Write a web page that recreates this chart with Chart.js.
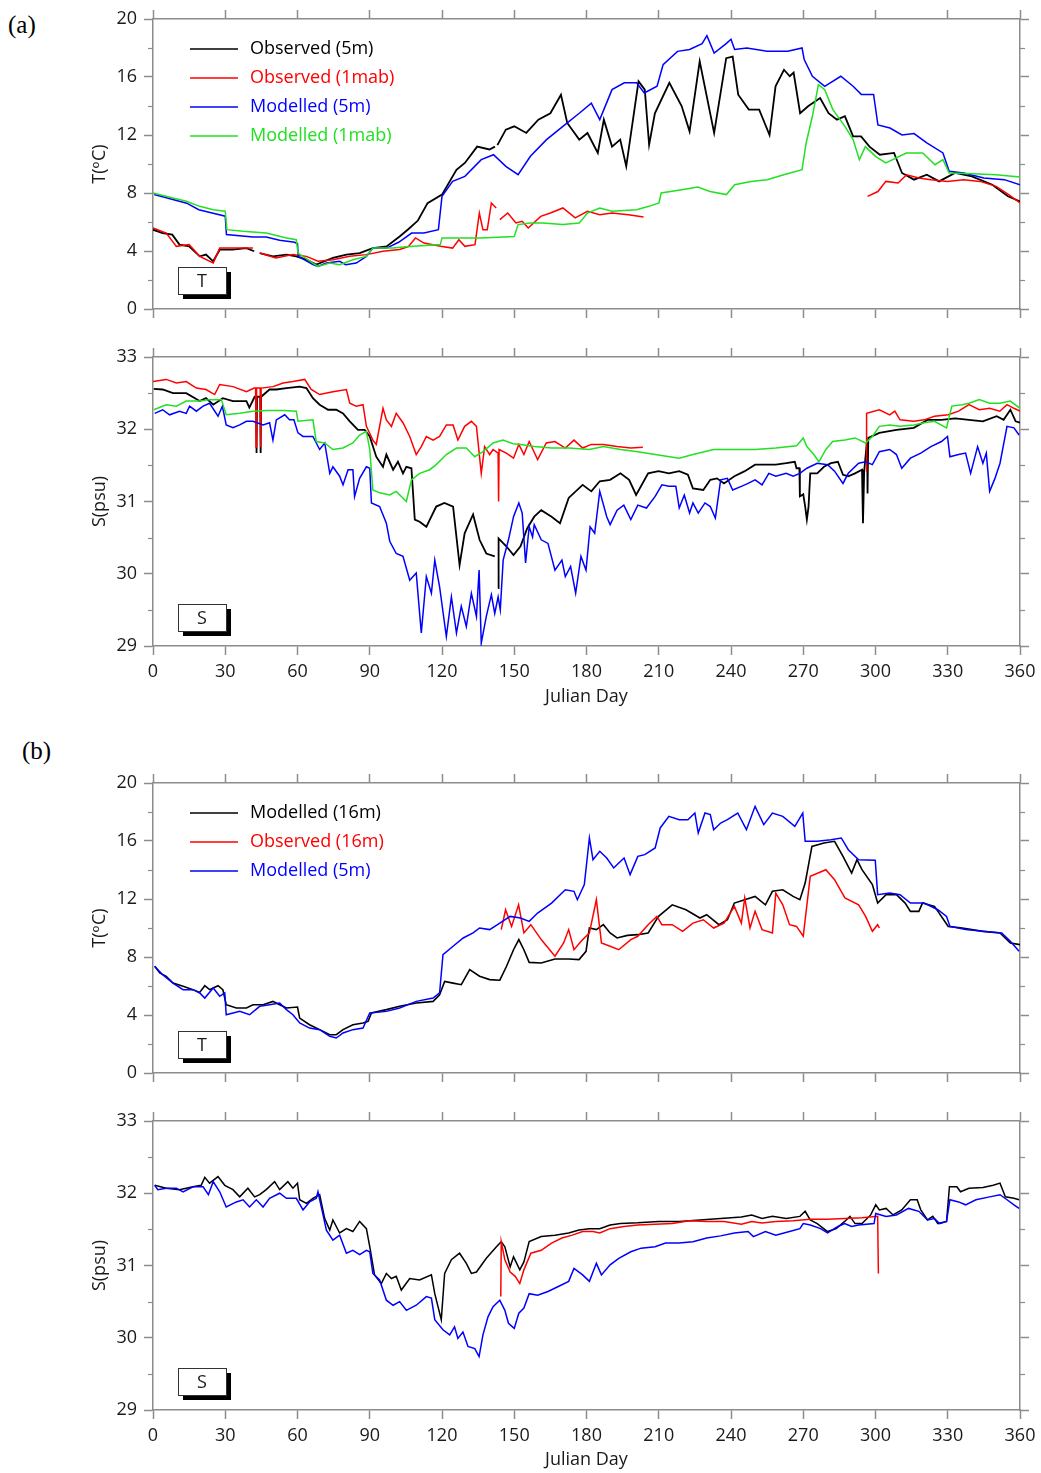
<!DOCTYPE html>
<html>
<head>
<meta charset="utf-8">
<title>Temperature and salinity, Julian day 0-360</title>
<script src="https://cdn.jsdelivr.net/npm/chart.js@4.4.1/dist/chart.umd.min.js"></script>
<style>
  body { margin: 0; background: #fff; }
  #page { position: relative; width: 1041px; height: 1473px; overflow: hidden; background: #fff; }
  #page canvas { position: absolute; left: 0; }
  .tag { position: absolute; font: 25px "Liberation Serif", "Times New Roman", serif; color: #000; line-height: 1; }
</style>
</head>
<body>
<div id="page">
  <div class="tag" style="left:8px;top:12px">(a)</div>
  <div class="tag" style="left:22px;top:738px">(b)</div>
  <canvas id="aT" width="1036" height="330" style="top:0px"></canvas>
  <canvas id="aS" width="1036" height="380" style="top:335px"></canvas>
  <canvas id="bT" width="1036" height="330" style="top:760px"></canvas>
  <canvas id="bS" width="1036" height="378" style="top:1095px"></canvas>
</div>

<script>
// ---------- Data: [Julian day, value], a null value breaks the record ----------

// (a) temperature
const aTObs5 = [[0,5.47],[4,5.24],[8,5.13],[11,4.44],[15,4.32],[19.4,3.63],[22,3.75],[25,3.29],[27.7,4.09],[33,4.09],[38.8,4.2],[42,3.98],[43,null],[44.3,3.86],[49.8,3.63],[55.4,3.75],[59.5,3.63],[63.7,3.4],[67.8,3.06],[74.7,3.52],[80.3,3.75],[85.8,3.86],[91.3,4.2],[97,4.32],[102.4,5.0],[106,5.5],[110,6.1],[114,7.3],[120,7.89],[126,9.6],[129.5,10.07],[134.6,11.2],[139.7,11.0],[142,11.2],[142.5,null],[143,11.3],[146.5,12.37],[150,12.6],[155,12.14],[160,13.06],[165,13.5],[169.4,14.78],[172,12.83],[177,11.68],[180.4,12.14],[184.7,10.76],[187.2,13.06],[190.6,11.2],[194,11.68],[196.5,9.84],[201.6,15.7],[204.2,15.13],[206,11.33],[208.4,13.5],[214.4,15.6],[219.5,14.0],[222.8,12.25],[227,17.08],[233,12.14],[238,17.3],[240.7,17.4],[243,14.78],[247.4,13.75],[251.7,13.75],[256,12.0],[258.5,15.36],[262,16.5],[264.4,16.05],[266,16.3],[268.7,13.5],[272,13.98],[277,14.55],[280.5,13.5],[284,13.06],[287.3,13.29],[290.7,11.91],[294,11.91],[297.5,11.2],[301.8,10.64],[307.7,10.76],[311,9.38],[316,8.92],[321.3,9.26],[326.4,8.8],[333,9.38],[340,9.15],[348.5,8.57],[355,7.77],[360,7.42]];
const aTObs1mab = [[0,5.59],[5.5,5.24],[9.7,4.32],[15,4.44],[19.4,3.63],[25,3.17],[27.7,4.2],[33,4.2],[41.5,4.2],[43,null],[44.3,3.86],[51,3.52],[58,3.75],[63.7,3.63],[68.5,3.29],[74.7,3.4],[81.7,3.63],[88.6,3.75],[95.5,3.98],[102.4,4.1],[106,4.3],[109,4.9],[112.5,4.55],[119.4,4.32],[124.4,4.2],[127,4.78],[129.5,4.32],[133.7,4.44],[135.5,6.62],[137,5.47],[138.8,5.47],[140.5,7.31],[142.5,6.97],[143.2,null],[144,6.16],[147.3,6.62],[150.7,5.93],[153.3,6.05],[155.8,5.59],[161,6.39],[165,6.62],[170.2,6.97],[175.3,6.28],[180.4,6.74],[185.5,6.5],[190.6,6.62],[197.4,6.5],[203.7,6.34],[250,null],[296.7,7.77],[301,8.1],[304.3,8.8],[309.4,8.69],[312.9,9.26],[318,9.03],[323,8.92],[329.8,8.8],[336.6,8.92],[343.4,8.8],[350.1,8.46],[355.3,7.89],[360,7.31]];
const aTMod5 = [[0.5,7.89],[14,7.3],[19,6.85],[25,6.6],[30,6.4],[30.5,5.13],[41.5,4.97],[47,4.97],[52.6,4.74],[58.8,4.6],[60,4.5],[60.3,3.63],[66.4,3.06],[68.5,2.94],[72,3.17],[77.5,3.29],[80,3.06],[84.4,3.17],[88.6,3.63],[91.3,4.2],[97,4.2],[102,4.6],[107.4,5.24],[112.5,5.24],[118.5,5.47],[120,7.77],[124.4,8.8],[129.5,9.15],[136.3,10.3],[141.4,10.64],[146.5,9.84],[151.6,9.26],[156.7,10.53],[163.4,11.68],[170.2,12.6],[177,13.5],[182,14.2],[185.5,13.06],[190.6,15.13],[195.7,15.6],[200.8,15.6],[204,14.9],[209.3,15.36],[211.8,16.85],[217.8,17.77],[222.8,17.9],[228,18.3],[230,18.85],[233,17.65],[238,18.3],[240,18.6],[241.5,17.9],[246.6,18.0],[255,17.77],[263.6,17.77],[269.5,18.0],[270.4,17.2],[273.8,16.05],[278.9,15.36],[285.6,16.05],[290.7,15.36],[294.1,14.8],[299.2,14.8],[301,12.7],[306,12.48],[311,12.0],[316,12.1],[321.3,11.45],[328,10.76],[330.6,9.5],[336.6,9.38],[345,9.03],[353.5,8.92],[360,8.57]];
const aTMod1mab = [[0,8.0],[8.3,7.66],[13.8,7.43],[19.4,7.08],[25,6.85],[30,6.74],[30.7,5.47],[37.4,5.36],[47,5.24],[55.4,4.9],[59.5,4.78],[60.2,3.86],[66.4,3.17],[68.5,2.94],[73.4,3.17],[77.5,3.06],[83,3.4],[88.6,3.63],[91.3,4.2],[99.7,4.2],[105,4.3],[119.3,4.44],[120,4.9],[136.3,4.9],[150,5.0],[151.6,5.82],[156.7,5.93],[161.8,5.93],[170.2,5.82],[177,5.93],[180.4,6.62],[185.5,6.97],[190.6,6.74],[200.8,6.85],[205.9,7.08],[210.1,7.31],[211,8.0],[219.5,8.23],[226.2,8.41],[231.3,8.11],[238.1,7.89],[241.5,8.57],[248.3,8.8],[255,8.92],[261.9,9.26],[269.5,9.61],[271.2,11.45],[273.8,13.29],[276.3,15.47],[278.9,15.13],[282.3,13.75],[287.3,12.6],[290.7,11.68],[293.3,10.3],[295.8,11.2],[300,10.53],[304.3,10.07],[312.8,10.76],[319.6,10.76],[324.7,9.95],[328,10.3],[330.6,9.38],[340,9.33],[350.1,9.26],[360,9.1]];

// (a) salinity
const aSObs5 = [[0.3,32.56],[4,32.55],[8.3,32.5],[13.8,32.5],[19.4,32.39],[22,32.43],[25,32.34],[29,32.43],[33.2,32.39],[38.8,32.39],[40,32.3],[42.2,32.45],[42.8,32.45],[43,31.67],[43.2,32.45],[44.5,32.45],[44.7,31.67],[44.9,32.45],[48.4,32.55],[51.2,32.55],[55.4,32.57],[60.9,32.59],[63.7,32.57],[66.4,32.43],[69.2,32.34],[72.7,32.27],[76.1,32.27],[78.9,32.22],[81.7,32.11],[85.1,31.99],[87.9,31.99],[90,31.9],[92.7,31.62],[95.5,31.48],[96.9,31.65],[99.7,31.44],[101.7,31.55],[103.8,31.39],[105.2,31.48],[107.3,31.46],[108.7,30.75],[110.7,30.72],[113.5,30.65],[117.6,30.93],[121,30.98],[124.6,30.93],[127.3,30.12],[129.4,30.56],[132.9,30.82],[135.6,30.47],[138.4,30.28],[141.9,30.24],[142.5,null],[143.3,29.8],[143.5,30.49],[146.7,30.38],[149.7,30.26],[152.6,30.38],[155.4,30.63],[158.3,30.79],[161.2,30.88],[165.5,30.79],[169,30.7],[172.6,31.05],[178.4,31.23],[182,31.14],[185.5,31.28],[189.8,31.3],[194.1,31.39],[197.7,31.3],[200.6,31.09],[205.6,31.39],[209.9,31.42],[214.2,31.39],[218.5,31.42],[222.1,31.37],[224.2,31.18],[228.5,31.16],[231.4,31.3],[234.2,31.32],[237.1,31.25],[241.4,31.35],[245.7,31.42],[250,31.51],[254.3,31.51],[258.6,31.51],[262.9,31.53],[266.5,31.55],[267.2,31.46],[268.4,31.46],[268.6,31.07],[270,31.1],[270.8,30.93],[271.5,30.75],[272.2,30.93],[272.9,31.39],[275.8,31.39],[278.6,31.48],[281.5,31.53],[284.4,31.55],[286.5,31.37],[288.7,31.35],[291.5,31.39],[294.4,31.44],[294.8,30.7],[295.3,31.42],[296.5,31.85],[296.7,31.11],[297,31.88],[301.6,31.95],[308.7,31.99],[315.9,32.02],[321.6,32.13],[327.4,32.13],[333.1,32.15],[338.8,32.13],[344.6,32.11],[350.3,32.18],[353.2,32.13],[356,32.27],[358.2,32.11],[360,32.09]];
const aSObs1mab = [[0,32.66],[5.5,32.69],[9.7,32.64],[13.8,32.66],[18,32.57],[22,32.55],[25.6,32.48],[27.7,32.62],[33.2,32.59],[38.8,32.52],[42,32.57],[42.6,32.57],[42.8,31.75],[43,32.57],[44.5,32.57],[44.7,31.75],[44.9,32.57],[49.8,32.59],[54,32.64],[58.1,32.66],[63,32.69],[65.7,32.55],[69.2,32.48],[74.7,32.52],[80.3,32.55],[81.7,32.36],[84.4,32.32],[87.2,32.34],[88.6,32.04],[91.3,31.85],[92.7,31.79],[95.5,32.29],[96.9,32.13],[99,32.04],[101,32.22],[103.8,32.09],[106.6,31.9],[109.3,31.65],[111.4,31.76],[113.5,31.9],[116.3,31.85],[119,31.9],[121.8,32.06],[124.6,32.06],[126.6,31.85],[129.4,32.04],[132.2,32.11],[134.3,32.04],[136.3,31.39],[137.7,31.76],[139.8,31.65],[141.2,31.72],[143.3,31.67],[143.5,31.0],[143.7,31.72],[146.7,31.67],[149.7,31.6],[151.9,31.79],[154,31.65],[156.2,31.83],[159.7,31.58],[163.3,31.81],[166.9,31.83],[171.2,31.74],[174.8,31.85],[178.4,31.74],[182,31.79],[187,31.79],[192.7,31.76],[198.4,31.74],[203.4,31.75],[250,null],[296.1,31.42],[296.3,32.22],[301.6,32.27],[305.9,32.2],[308,32.25],[310.2,32.13],[315.9,32.11],[320.2,32.13],[324.5,32.18],[330.2,32.2],[334.5,32.25],[338.8,32.34],[343.1,32.27],[347.4,32.29],[351.6,32.25],[354.6,32.34],[357.5,32.29],[360,32.25]];
const aSMod5 = [[0.7,32.22],[4,32.27],[6.9,32.2],[11,32.25],[13.8,32.22],[15.2,32.32],[18,32.25],[20.8,32.32],[23.5,32.36],[27,32.18],[28.8,32.32],[30.4,32.06],[33.2,32.02],[36,32.06],[38.8,32.11],[41.5,32.11],[45.7,32.06],[48.4,32.09],[49.8,31.85],[51.2,32.13],[54.7,32.2],[56.7,32.13],[58.5,32.13],[60.2,31.95],[62.3,31.9],[66.4,31.9],[69.2,31.72],[71.3,31.81],[73.4,31.39],[74.7,31.48],[77.5,31.35],[78.9,31.23],[81,31.44],[83,31.44],[83.7,31.07],[85.8,31.32],[88.6,31.48],[90,31.46],[90.7,30.98],[94.1,30.93],[96.9,30.7],[98.3,30.45],[101,30.28],[103.8,30.24],[106.6,29.91],[109.3,30.01],[111.4,29.18],[113.5,29.96],[115.6,29.73],[117,30.19],[119,29.82],[121.8,29.13],[123.9,29.68],[126,29.18],[128,29.55],[130.1,29.27],[132.2,29.73],[134.3,29.41],[135.4,30.05],[136.3,29.04],[138.4,29.41],[140.5,29.71],[141.9,29.45],[143.3,29.68],[144.2,29.5],[145.4,30.19],[147.6,30.47],[149.7,30.79],[151.9,30.98],[153.3,30.84],[154.7,30.15],[156.2,30.65],[157.6,30.51],[158.3,30.68],[161.2,30.47],[164,30.42],[166.9,30.05],[169.8,30.19],[171.2,29.96],[173.4,30.1],[175.5,29.73],[177.7,30.24],[179.8,30.05],[181.5,30.65],[183.4,30.56],[185.5,31.14],[188.4,30.79],[189.8,30.68],[192.7,30.88],[195.5,30.95],[198.4,30.75],[201.3,30.95],[204.9,30.91],[208.5,31.07],[211.3,31.23],[214.2,31.21],[217.1,31.21],[218.5,30.91],[220.6,31.09],[222.8,30.84],[224.2,30.98],[226.4,30.84],[229.2,30.98],[231.4,30.93],[233.5,30.77],[235.7,31.3],[238.5,31.32],[240.7,31.16],[244.3,31.21],[247.1,31.25],[250,31.3],[252.9,31.23],[255.7,31.39],[258.6,31.35],[262.9,31.39],[265.8,31.35],[268.6,31.39],[271.5,31.46],[275.8,31.53],[280.1,31.51],[283,31.42],[286.5,31.25],[288.7,31.39],[293,31.53],[295.9,31.55],[298.7,31.51],[301.6,31.69],[305.9,31.72],[308.7,31.65],[310.9,31.46],[314.5,31.6],[318.8,31.67],[323,31.76],[327.4,31.83],[329.9,31.9],[330.9,31.62],[334.5,31.65],[337.4,31.67],[339.5,31.39],[342.4,31.76],[344.6,31.53],[346,31.67],[347.4,31.14],[349.6,31.32],[351.7,31.53],[354.6,32.04],[357.5,32.02],[359.6,31.92]];
const aSMod1mab = [[0.3,32.27],[5.5,32.34],[9.7,32.32],[13.8,32.39],[19.4,32.39],[23.5,32.41],[28.4,32.41],[30.4,32.2],[36,32.22],[41.5,32.25],[47,32.26],[54,32.26],[59.5,32.25],[60.2,32.11],[66.4,32.13],[67.8,31.83],[71.3,31.81],[74.7,31.72],[78.9,31.74],[83,31.81],[85.8,31.92],[88.6,31.97],[90,31.72],[91.3,31.16],[94.1,31.12],[98.3,31.09],[101,31.14],[103.1,31.07],[105.2,31.0],[107.3,31.3],[110.7,31.39],[114.9,31.44],[117.6,31.51],[121.8,31.65],[126,31.74],[130.1,31.74],[133.6,31.62],[137,31.69],[141.2,31.81],[145.3,31.85],[149.5,31.8],[152.6,31.79],[158.3,31.76],[165.5,31.74],[172.6,31.74],[181.2,31.72],[187,31.76],[194.1,31.72],[201.3,31.69],[208.5,31.65],[218.5,31.6],[224.2,31.65],[232.8,31.72],[241.4,31.72],[250,31.72],[258.6,31.74],[267.2,31.77],[270,31.88],[271.5,31.76],[274.4,31.65],[276.5,31.55],[279.4,31.72],[282.2,31.83],[287.3,31.85],[291.5,31.88],[295.9,31.81],[298.7,31.9],[301.6,32.04],[305.9,32.06],[310.2,32.04],[315.9,32.06],[320.2,32.09],[324.5,32.11],[329.5,32.02],[331.7,32.32],[336,32.34],[338.8,32.36],[343.1,32.41],[347.4,32.36],[351.7,32.36],[356,32.39],[360,32.29]];

// (b) temperature
const bTMod16 = [[0.7,7.36],[2.8,6.9],[5.5,6.67],[8.3,6.2],[12.5,5.98],[16.6,5.75],[19.4,5.56],[21.5,6.02],[23.5,5.75],[27,6.02],[29,5.75],[30.4,4.71],[34.6,4.48],[38.8,4.48],[41.5,4.71],[45.7,4.71],[49.8,4.94],[52.6,4.71],[55.4,4.48],[60,4.55],[60.9,3.79],[65,3.33],[69.2,2.99],[73.4,2.64],[76.1,2.64],[78.9,2.99],[83,3.33],[87.2,3.45],[89.3,3.56],[90.7,4.14],[96.9,4.37],[102.4,4.6],[109.3,4.83],[116.3,4.94],[119,5.4],[121.1,6.32],[124.6,6.2],[128,6.09],[131.5,7.13],[135.6,6.67],[139.8,6.44],[144,6.4],[146.8,7.36],[149.7,8.5],[151.9,9.2],[154,8.5],[156.2,7.63],[161.2,7.59],[166.9,7.86],[172.6,7.86],[176.9,7.82],[179.8,8.39],[181.2,10.0],[184.1,9.89],[187,10.23],[189.8,9.66],[192.7,9.31],[197,9.49],[201.3,9.54],[205.6,9.66],[209.9,10.8],[215.6,11.6],[221.3,11.26],[227.1,10.69],[229.9,10.92],[235,10.23],[238.5,10.57],[241.4,11.72],[245.7,11.95],[250,12.18],[254.3,11.6],[257.2,12.53],[261.5,12.64],[265.8,12.18],[268.6,11.95],[270.8,13.1],[273.6,15.63],[278.6,15.86],[283,15.98],[286.5,14.94],[290.1,13.79],[292.3,14.71],[294.4,14.02],[298.7,12.99],[300.9,11.72],[304.4,12.3],[308.7,12.3],[312.3,11.72],[314.5,11.15],[318,11.15],[319.5,11.72],[324.5,11.49],[330.2,10.11],[336,10.0],[344.6,9.77],[351.7,9.66],[356,8.97],[360,8.85]];
const bTObs16 = [[144.6,9.89],[146.4,11.26],[148.9,10.11],[151.8,11.6],[154,9.66],[156.9,10.23],[161.2,9.2],[166.9,8.05],[170.5,8.97],[172.6,9.89],[174.8,8.5],[178.4,9.2],[181.2,9.66],[184.1,11.95],[186.2,8.97],[189.8,8.74],[193.4,8.5],[198.4,9.2],[201.3,9.43],[205.6,10.23],[209.2,10.8],[211.3,10.23],[215.6,10.23],[219.9,9.77],[224.2,10.34],[228.5,10.57],[232.8,10.0],[237.1,10.34],[241.4,11.49],[244.3,10.34],[245.7,12.07],[247.9,10.0],[250,11.15],[252.9,9.89],[257.2,9.66],[258.6,12.41],[261.5,11.6],[264.3,10.23],[267.2,10.11],[270,9.43],[272.9,13.56],[279.4,14.02],[283,13.33],[287.3,12.07],[293,11.6],[295.9,10.8],[298.7,9.77],[300.9,10.23],[301.6,10.0]];
const bTMod5 = [[0.7,7.36],[4,6.78],[8.3,6.2],[12.5,5.75],[16.6,5.75],[19.4,5.52],[21.5,5.17],[25,5.86],[27.7,5.29],[29.8,5.52],[30.4,4.02],[36,4.25],[40.1,4.02],[44.3,4.6],[48.4,4.71],[52.6,4.83],[55.4,4.37],[58.1,4.02],[60.9,3.45],[65,3.1],[69.2,2.99],[73.4,2.53],[76.1,2.41],[78.9,2.76],[83,2.99],[87.2,3.1],[90,4.14],[96.9,4.25],[102.4,4.48],[109.3,4.94],[116.3,5.17],[119,5.52],[120.4,8.16],[124.6,8.74],[128.8,9.31],[132.9,9.66],[135.6,10.0],[139.8,9.89],[144,10.34],[148.3,10.8],[152.6,10.69],[156.2,10.46],[159.7,11.03],[165.5,11.72],[171.2,12.64],[174.8,12.53],[176.2,11.95],[179.1,12.99],[181.2,16.21],[182.7,14.71],[185.5,15.29],[188.4,14.83],[191.3,14.14],[193.4,14.48],[195.6,14.83],[198.1,13.68],[201.3,14.94],[204.2,15.06],[208.5,15.52],[210.6,16.9],[214.2,17.7],[218.5,17.47],[222.1,17.47],[225,17.93],[226.4,16.55],[229.2,17.93],[231.4,17.82],[232.8,16.78],[235.7,17.24],[238.5,17.47],[242.8,17.93],[246.4,16.78],[250,18.39],[253.6,17.13],[257.2,17.93],[261.5,17.7],[266.5,17.01],[269.8,17.93],[270.8,15.98],[275.8,15.98],[281.5,16.09],[285.8,16.21],[288.7,15.4],[293,14.71],[299.9,14.67],[300.9,12.3],[305.9,12.41],[310.2,12.3],[314.5,11.72],[320.2,11.72],[325.9,11.26],[329.5,10.8],[330.9,10.11],[337.4,9.89],[344.6,9.77],[352.4,9.66],[356,9.08],[359.6,8.39]];

// (b) salinity
const bSMod16 = [[0.7,32.11],[5.5,32.07],[11,32.05],[16.6,32.09],[20,32.11],[21.5,32.22],[23.5,32.14],[27,32.23],[29.8,32.11],[33.2,32.05],[36,31.95],[39.4,32.07],[42.2,31.95],[44.3,31.98],[47,32.05],[50.5,32.16],[52.6,32.05],[56,32.16],[58.1,32.07],[60,32.14],[60.9,31.91],[63.7,31.86],[66.4,31.93],[69.2,31.98],[71.3,31.65],[73.4,31.49],[74.7,31.63],[77.5,31.45],[80.3,31.51],[83,31.47],[85.8,31.61],[88.6,31.51],[90,31.26],[92,30.87],[94.8,30.75],[96.9,30.89],[99,30.82],[101,30.85],[103.1,30.66],[106.6,30.82],[110.7,30.8],[115.6,30.87],[117,30.61],[119.7,30.25],[121.1,30.89],[123.9,31.08],[127.3,31.17],[130.1,31.03],[132.2,30.89],[134.3,30.91],[138.4,31.1],[142.6,31.26],[144.6,31.33],[146.1,31.26],[148.3,30.98],[149.7,31.12],[152.3,30.94],[154,31.05],[156.2,31.33],[161.2,31.4],[166.9,31.42],[172.6,31.45],[176.9,31.49],[181.2,31.51],[185.5,31.51],[189.8,31.56],[194.1,31.58],[201.3,31.59],[209.9,31.61],[218.5,31.61],[227.1,31.63],[235.7,31.65],[244.3,31.67],[248.6,31.7],[252.9,31.65],[257.2,31.68],[262.9,31.65],[268.6,31.68],[270.8,31.75],[272.9,31.63],[275.8,31.58],[280.1,31.47],[283.7,31.51],[287.2,31.61],[289.4,31.68],[291.5,31.58],[294.4,31.58],[298,31.7],[300.1,31.84],[301.6,31.77],[304.4,31.79],[307.3,31.7],[310.9,31.77],[314.5,31.91],[317.3,31.91],[318.8,31.77],[321.6,31.63],[323.8,31.68],[325.9,31.58],[329.5,31.61],[330.7,32.09],[333.8,32.09],[335.3,32.02],[338.8,32.07],[344.6,32.08],[348.9,32.11],[351.7,32.14],[353.9,31.95],[357.5,31.93],[359.6,31.91]];
const bSObs16 = [[144.4,30.57],[144.6,31.33],[146.1,31.08],[148.3,30.91],[150.4,30.85],[152.3,30.75],[154,30.94],[156.9,31.17],[161.2,31.21],[165.5,31.31],[169.8,31.38],[174.1,31.42],[178.4,31.47],[182.7,31.47],[185.5,31.45],[189.8,31.51],[195.5,31.54],[201.3,31.56],[208.5,31.57],[215.6,31.58],[222.8,31.62],[229.9,31.61],[237.1,31.61],[244.3,31.57],[248.6,31.61],[252.9,31.59],[258.6,31.61],[265.8,31.62],[272.9,31.64],[280.1,31.64],[287.2,31.65],[294.4,31.66],[300.9,31.68],[301.2,30.89]];
const bSMod5 = [[0.7,32.11],[2,32.05],[5.5,32.07],[9.7,32.07],[12.5,32.02],[16.6,32.09],[20.8,32.09],[23,31.98],[25,32.16],[27.7,32.02],[30.4,31.81],[34.6,31.88],[37.4,31.91],[40.1,31.81],[42.9,31.91],[45.7,31.81],[48.4,31.93],[52.6,32.0],[55.4,31.93],[59.5,31.93],[62.3,31.77],[65,31.88],[67.8,31.93],[68.5,32.02],[69.9,31.81],[72,31.49],[74.7,31.35],[77.5,31.42],[80.3,31.17],[83,31.21],[85.8,31.15],[88.6,31.21],[90,31.19],[91.3,30.89],[94.1,30.8],[96.9,30.52],[99.7,30.45],[102.4,30.5],[105.2,30.38],[109.3,30.45],[113.5,30.57],[115.6,30.55],[117,30.25],[120.4,30.11],[123.2,30.04],[125.2,30.15],[126.6,29.99],[128.7,30.08],[130.8,29.88],[133.6,29.85],[135.4,29.74],[137,30.04],[139.1,30.29],[141.2,30.43],[144,30.52],[146.1,30.38],[147.6,30.2],[150,30.13],[151.9,30.34],[154,30.41],[156.2,30.61],[159.7,30.59],[164,30.64],[168.3,30.71],[172.6,30.78],[174.8,30.96],[178.4,30.87],[181.2,30.78],[184.1,31.03],[186.2,30.87],[189.8,31.01],[193.4,31.1],[198.4,31.19],[202.7,31.24],[208.5,31.26],[212.8,31.31],[218.5,31.31],[224.2,31.33],[229.9,31.38],[235.7,31.41],[241.4,31.45],[247.1,31.47],[249.3,31.4],[254.3,31.47],[258.6,31.42],[264.3,31.47],[268.6,31.51],[270,31.58],[272.9,31.56],[277.2,31.51],[280.1,31.45],[284.4,31.54],[287.2,31.58],[290.1,31.54],[293,31.56],[299.4,31.58],[300.1,31.72],[304.4,31.68],[308.7,31.7],[313.7,31.79],[318,31.75],[321.6,31.63],[324.5,31.65],[326.6,31.58],[329.5,31.61],[330.9,31.91],[334.5,31.88],[337.4,31.84],[341.7,31.91],[347.4,31.95],[351.7,31.98],[354.6,31.91],[357.5,31.84],[359.6,31.79]];

// ---------- Styles ----------
const FONT = "'Open Sans', 'DejaVu Sans', sans-serif";
const FONT_SIZE = 18;
const AXIS = "#8c8c8c";
const INK = "#1a1a1a";
const BLACK = "#000000", RED = "#ff0000", BLUE = "#0000ff", GREEN = "#22e022";
const PLOT_LEFT = 153, PLOT_RIGHT = 1020, PAD_LEFT = 86;

// legend rows, minor ticks and the boxed panel letter
const panelDecor = {
  id: "panelDecor",
  afterDraw(chart, args, opts) {
    const { ctx, chartArea: a } = chart;
    ctx.save();

    // minor ticks, halfway between labelled ticks, outside the frame
    ctx.strokeStyle = AXIS;
    ctx.lineWidth = 1.2;
    ["y", "y2"].forEach(id => {
      const s = chart.scales[id];
      for (let v = s.min + opts.minorStep; v < s.max; v += opts.minorStep * 2) {
        const py = Math.round(s.getPixelForValue(v)) + 0.5;
        const x0 = id === "y" ? a.left : a.right;
        const dir = id === "y" ? -1 : 1;
        ctx.beginPath();
        ctx.moveTo(x0, py);
        ctx.lineTo(x0 + dir * 5, py);
        ctx.stroke();
      }
    });

    // legend
    ctx.font = `${FONT_SIZE}px ${FONT}`;
    ctx.textBaseline = "middle";
    ctx.textAlign = "left";
    if (opts.legend) {
      chart.data.datasets.forEach((ds, i) => {
        const y = a.top + 30 + i * 29;
        ctx.strokeStyle = ds.borderColor;
        ctx.lineWidth = 1.3;
        ctx.beginPath();
        ctx.moveTo(a.left + 37, y);
        ctx.lineTo(a.left + 85, y);
        ctx.stroke();
        ctx.fillStyle = ds.borderColor;
        ctx.fillText(ds.label, a.left + 97, y);
      });
    }

    // boxed letter with drop shadow
    const bx = a.left + 25, by = a.bottom - 42, bw = 48, bh = 27;
    ctx.fillStyle = "#000";
    ctx.fillRect(bx + 5, by + 5, bw, bh);
    ctx.fillStyle = "#fff";
    ctx.fillRect(bx, by, bw, bh);
    ctx.strokeStyle = "#333";
    ctx.lineWidth = 1;
    ctx.strokeRect(bx + 0.5, by + 0.5, bw, bh);
    ctx.fillStyle = INK;
    ctx.textAlign = "center";
    ctx.fillText(opts.tag, bx + bw / 2, by + bh / 2 + 1);
    ctx.restore();
  }
};

function gridOpts() {
  return { display: true, drawOnChartArea: false, drawTicks: true, tickLength: 9, tickColor: AXIS, tickWidth: 1.5 };
}

function buildPanel(id, spec) {
  const canvas = document.getElementById(id);
  const W = canvas.width, H = canvas.height;
  const n = spec.series.length;
  const tickFont = { family: FONT, size: FONT_SIZE };

  const datasets = spec.series.map((s, i) => ({
    label: s.label,
    data: s.points.map(([x, y]) => ({ x, y })),
    borderColor: s.color,
    borderWidth: s.width || 1.5,
    pointRadius: 0,
    tension: 0,
    spanGaps: false,
    order: n - i
  }));

  const xCommon = {
    type: "linear", min: 0, max: 360,
    grid: gridOpts(),
    border: { display: true, color: AXIS, width: 1.5 }
  };
  const yCommon = {
    type: "linear", min: spec.yMin, max: spec.yMax,
    grid: gridOpts(),
    border: { display: true, color: AXIS, width: 1.5 }
  };

  return new Chart(canvas, {
    type: "line",
    data: { datasets },
    options: {
      responsive: false,
      animation: false,
      events: [],
      layout: { padding: { left: PAD_LEFT, right: 0, top: 0, bottom: 0 } },
      plugins: {
        legend: { display: false },
        tooltip: { enabled: false },
        panelDecor: { tag: spec.tag, minorStep: spec.yStep / 2, legend: spec.legend }
      },
      scales: {
        x: {
          ...xCommon, position: "bottom",
          ticks: { stepSize: 30, display: spec.xLabels, autoSkip: false, maxRotation: 0, padding: 6, color: INK, font: tickFont },
          title: { display: spec.xLabels, text: "Julian Day", color: INK, font: tickFont, padding: { top: 0, bottom: spec.titlePad } },
          afterFit: s => { s.height = H - spec.bottom; s.paddingLeft = 0; s.paddingRight = 0; }
        },
        x2: {
          ...xCommon, position: "top",
          ticks: { stepSize: 30, display: false },
          afterFit: s => { s.height = spec.top; s.paddingLeft = 0; s.paddingRight = 0; }
        },
        y: {
          ...yCommon, position: "left",
          ticks: { stepSize: spec.yStep, padding: 7, color: INK, font: tickFont },
          title: { display: true, text: spec.yTitle, color: INK, font: tickFont, padding: { top: 3, bottom: 0 } },
          afterFit: s => { s.width = PLOT_LEFT - PAD_LEFT; s.paddingTop = 0; s.paddingBottom = 0; }
        },
        y2: {
          ...yCommon, position: "right",
          ticks: { stepSize: spec.yStep, display: false },
          afterFit: s => { s.width = W - PLOT_RIGHT; s.paddingTop = 0; s.paddingBottom = 0; }
        }
      }
    },
    plugins: [panelDecor]
  });
}

buildPanel("aT", {
  top: 19, bottom: 309, yMin: 0, yMax: 20, yStep: 4, yTitle: "T(ᵒC)", tag: "T",
  xLabels: false, titlePad: 0, legend: true,
  series: [
    { label: "Observed (5m)", points: aTObs5, color: BLACK, width: 1.8 },
    { label: "Observed (1mab)", points: aTObs1mab, color: RED },
    { label: "Modelled (5m)", points: aTMod5, color: BLUE },
    { label: "Modelled (1mab)", points: aTMod1mab, color: GREEN }
  ]
});

buildPanel("aS", {
  top: 22, bottom: 311, yMin: 29, yMax: 33, yStep: 1, yTitle: "S(psu)", tag: "S",
  xLabels: true, titlePad: 7, legend: false,
  series: [
    { label: "Observed (5m)", points: aSObs5, color: BLACK, width: 1.8 },
    { label: "Observed (1mab)", points: aSObs1mab, color: RED },
    { label: "Modelled (5m)", points: aSMod5, color: BLUE },
    { label: "Modelled (1mab)", points: aSMod1mab, color: GREEN }
  ]
});

buildPanel("bT", {
  top: 23, bottom: 313, yMin: 0, yMax: 20, yStep: 4, yTitle: "T(ᵒC)", tag: "T",
  xLabels: false, titlePad: 0, legend: true,
  series: [
    { label: "Modelled (16m)", points: bTMod16, color: BLACK, width: 1.6 },
    { label: "Observed (16m)", points: bTObs16, color: RED },
    { label: "Modelled (5m)", points: bTMod5, color: BLUE }
  ]
});

buildPanel("bS", {
  top: 26, bottom: 315, yMin: 29, yMax: 33, yStep: 1, yTitle: "S(psu)", tag: "S",
  xLabels: true, titlePad: 2, legend: false,
  series: [
    { label: "Modelled (16m)", points: bSMod16, color: BLACK, width: 1.5 },
    { label: "Observed (16m)", points: bSObs16, color: RED },
    { label: "Modelled (5m)", points: bSMod5, color: BLUE }
  ]
});
</script>
</body>
</html>
